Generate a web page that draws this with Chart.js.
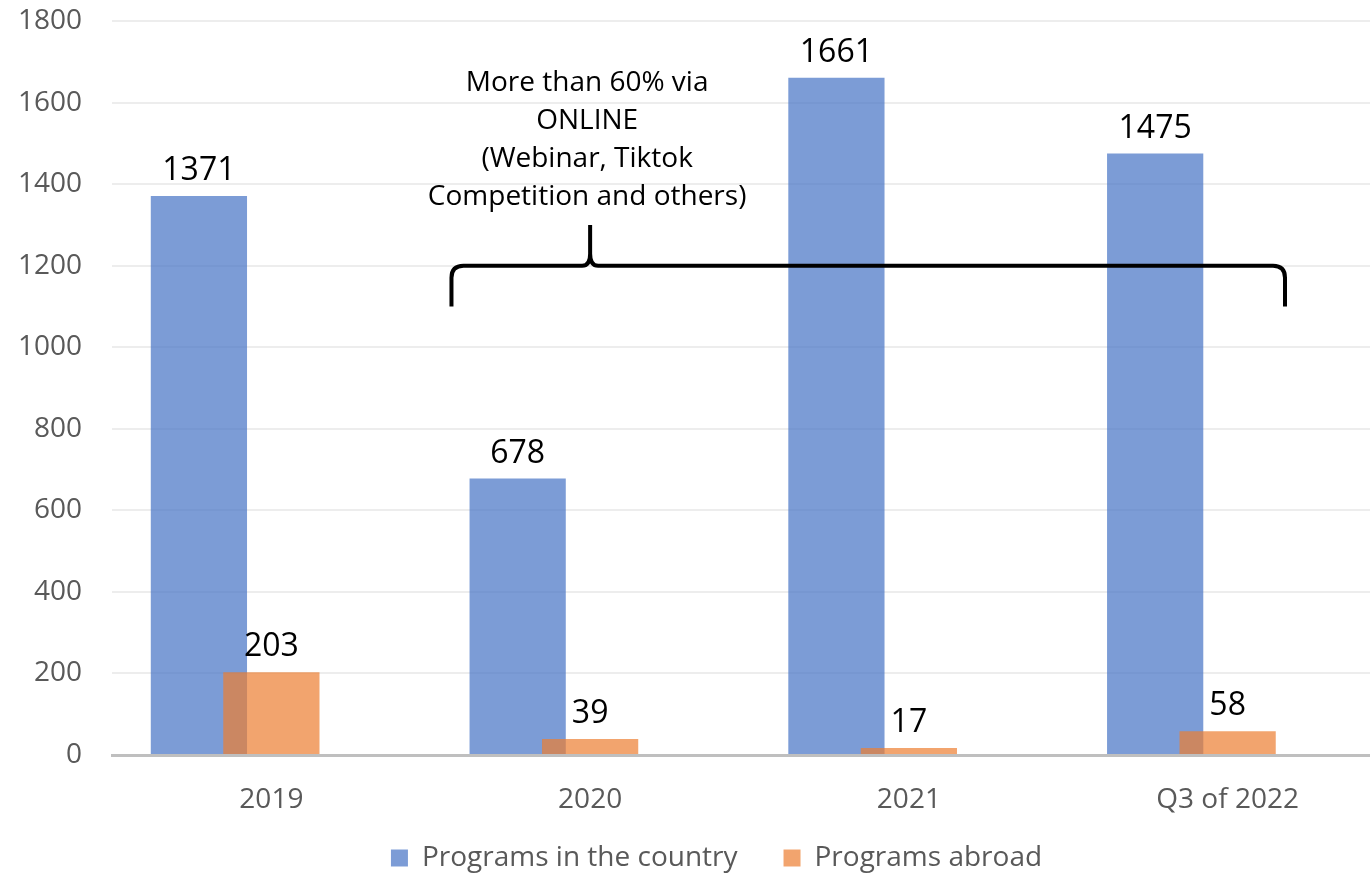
<!DOCTYPE html>
<html>
<head>
<meta charset="utf-8">
<script src="https://cdn.jsdelivr.net/npm/chart.js@4/dist/chart.umd.min.js"></script>
<style>
    html, body { margin: 0; padding: 0; background: #fff; overflow: hidden; }
    #wrap { width: 1425px; height: 876px; }
</style>
</head>
<body>
<div id="wrap"><canvas id="programsChart" width="1425" height="876"></canvas></div>
<script>
const categories = ['2019', '2020', '2021', 'Q3 of 2022'];
const inCountry = [1371, 678, 1661, 1475];
const abroad = [203, 39, 17, 58];
const spacer = [0, 0, 0, 0]; // empty third series, gives the same bar spacing as the original
const yTicks = [0, 200, 400, 600, 800, 1000, 1200, 1400, 1600, 1800];

const noteLines = ['More than 60% via', 'ONLINE', '(Webinar, Tiktok', 'Competition and others)'];
// brace spans from category index 0.565 to 3.18, line at 1200, tip at 2020
const brace = { from: 0.565, tip: 1, to: 3.18, line: 1200, ends: 1100, top: 1300 };
const noteBaseline = 1629;

const FONT = '"Open Sans", "Noto Sans", sans-serif';

// draw bars in dataset order so the orange sits on top of the blue
const drawOrder = {
    id: 'drawOrder',
    beforeDatasetsDraw(chart) {
        chart.getSortedVisibleDatasetMetas().forEach(meta => meta.controller.draw());
        return false;
    }
};

// legend sits a bit higher / further right than chart.js puts it
const legendNudge = {
    id: 'legendNudge',
    afterLayout(chart) {
        const lg = chart.legend;
        lg.top -= 19;
        lg.bottom -= 19;
        lg.left += 14;
        lg.right += 14;
    }
};

const valueLabels = {
    id: 'valueLabels',
    afterDraw(chart) {
        const ctx = chart.ctx;
        ctx.save();
        ctx.font = '32px ' + FONT;
        ctx.fillStyle = '#000';
        ctx.textAlign = 'center';
        ctx.textBaseline = 'alphabetic';
        [0, 1].forEach(di => {
            const values = chart.data.datasets[di].data;
            chart.getDatasetMeta(di).data.forEach((bar, i) => {
                ctx.fillText(String(values[i]), bar.x, bar.y - 16);
            });
        });
        ctx.restore();
    }
};

const braceNote = {
    id: 'braceNote',
    afterDraw(chart) {
        const { ctx, scales: { x, y } } = chart;
        const x0 = x.getPixelForValue(brace.from);
        const xt = x.getPixelForValue(brace.tip);
        const x1 = x.getPixelForValue(brace.to);
        const yl = y.getPixelForValue(brace.line);
        const ye = y.getPixelForValue(brace.ends);
        const yt = y.getPixelForValue(brace.top);
        const r = 12, rt = 8;

        ctx.save();
        ctx.strokeStyle = '#000';
        ctx.lineWidth = 4;
        ctx.lineJoin = 'round';
        ctx.beginPath();
        ctx.moveTo(x0, ye);
        ctx.lineTo(x0, yl + r);
        ctx.quadraticCurveTo(x0, yl, x0 + r, yl);
        ctx.lineTo(xt - rt, yl);
        ctx.quadraticCurveTo(xt, yl, xt, yl - rt * 1.5);
        ctx.lineTo(xt, yt);
        ctx.moveTo(xt, yl - rt * 1.5);
        ctx.quadraticCurveTo(xt, yl, xt + rt, yl);
        ctx.lineTo(x1 - r, yl);
        ctx.quadraticCurveTo(x1, yl, x1, yl + r);
        ctx.lineTo(x1, ye);
        ctx.stroke();

        ctx.font = '28px ' + FONT;
        ctx.fillStyle = '#000';
        ctx.textAlign = 'center';
        ctx.textBaseline = 'alphabetic';
        const top = y.getPixelForValue(noteBaseline);
        noteLines.forEach((line, i) => ctx.fillText(line, xt - 3, top + i * 38));
        ctx.restore();
    }
};

const ctx = document.getElementById('programsChart').getContext('2d');
new Chart(ctx, {
    type: 'bar',
    data: {
        labels: categories,
        datasets: [
            { label: 'Programs in the country', data: inCountry, backgroundColor: 'rgba(68, 114, 196, 0.7)' },
            { label: 'Programs abroad', data: abroad, backgroundColor: 'rgba(237, 125, 49, 0.7)' },
            { label: 'spacer', data: spacer, backgroundColor: 'rgba(0, 0, 0, 0)' }
        ]
    },
    options: {
        responsive: false,
        animation: false,
        categoryPercentage: 0.682,
        barPercentage: 1.328,
        layout: { padding: { left: 18, right: 38, top: 21, bottom: -25 } },
        scales: {
            x: {
                grid: { display: false, tickLength: 28 },
                border: { display: true, color: '#BFBFBF', width: 3, z: 1 },
                ticks: { color: '#595959', font: { family: FONT, size: 28 }, padding: 0 },
                afterFit: scale => { scale.height = 62; }
            },
            y: {
                min: 0,
                max: 1800,
                afterBuildTicks: axis => { axis.ticks = yTicks.map(v => ({ value: v })); },
                afterFit: scale => { scale.width = 94; scale.paddingTop = 0; scale.paddingBottom = 0; },
                grid: { color: '#EDEDED', lineWidth: 2, drawTicks: false },
                border: { display: false },
                ticks: {
                    color: '#595959',
                    font: { family: FONT, size: 28 },
                    padding: 30,
                    callback: value => String(value)
                }
            }
        },
        plugins: {
            legend: {
                position: 'bottom',
                labels: {
                    boxWidth: 17,
                    boxHeight: 17,
                    padding: 46,
                    color: '#595959',
                    font: { family: FONT, size: 28 },
                    filter: item => item.datasetIndex < 2
                }
            },
            tooltip: { enabled: false }
        }
    },
    plugins: [drawOrder, legendNudge, valueLabels, braceNote]
});
</script>
</body>
</html>
